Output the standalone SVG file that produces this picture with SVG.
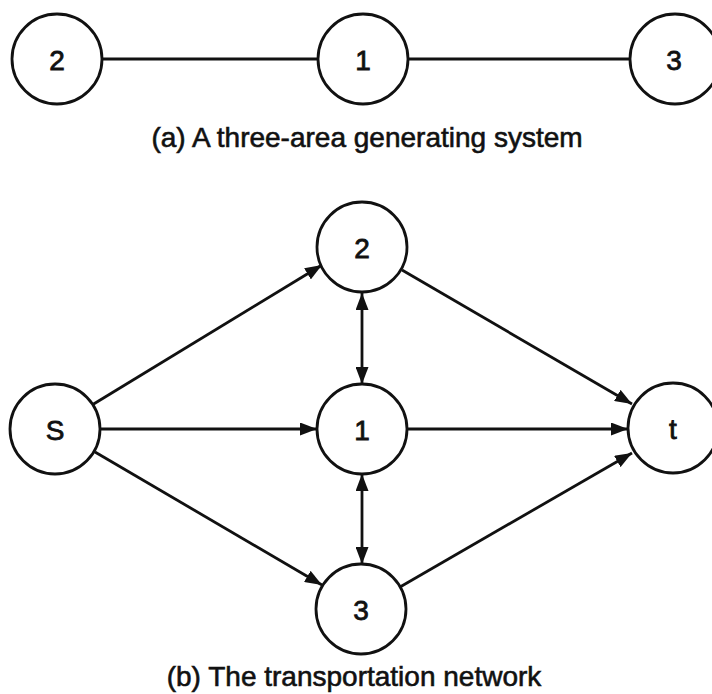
<svg xmlns="http://www.w3.org/2000/svg" width="712" height="694" viewBox="0 0 712 694">
<style>
.node circle{fill:#fff;stroke:#111;stroke-width:2.8}
.node text{font-family:"Liberation Sans",Arial,sans-serif;font-size:28px;fill:#111;text-anchor:middle;stroke:#111;stroke-width:0.8}
.cap{font-family:"Liberation Sans",Arial,sans-serif;font-size:28px;fill:#111;text-anchor:middle;stroke:#111;stroke-width:0.6}
#edges line{stroke:#111;stroke-width:2.8;fill:none}
</style>
<defs>
<marker id="ah" viewBox="0 0 17 13" refX="17" refY="6.5" markerWidth="17" markerHeight="13" markerUnits="userSpaceOnUse" orient="auto-start-reverse">
<path d="M0,0 L17,6.5 L0,13 z" fill="#111"/>
</marker>
</defs>
<rect width="712" height="694" fill="#fff"/>
<g id="edges">
<line x1="102" y1="59" x2="318" y2="59"/>
<line x1="408" y1="59" x2="630" y2="59"/>
<line x1="92" y1="405" x2="322" y2="265" marker-end="url(#ah)"/>
<line x1="100" y1="429" x2="317" y2="429" marker-end="url(#ah)"/>
<line x1="95" y1="452" x2="322" y2="585" marker-end="url(#ah)"/>
<line x1="402" y1="270" x2="632" y2="404" marker-end="url(#ah)"/>
<line x1="407" y1="429" x2="628" y2="429" marker-end="url(#ah)"/>
<line x1="400" y1="587" x2="632" y2="453" marker-end="url(#ah)"/>
<line x1="362" y1="293" x2="362" y2="384" marker-start="url(#ah)" marker-end="url(#ah)"/>
<line x1="362" y1="474" x2="362" y2="564" marker-start="url(#ah)" marker-end="url(#ah)"/>
</g>
<g id="a2" class="node"><circle cx="57" cy="59" r="45"/><text x="57" y="70">2</text></g>
<g id="a1" class="node"><circle cx="363" cy="59" r="45"/><text x="363" y="70">1</text></g>
<g id="a3" class="node"><circle cx="675" cy="59" r="45"/><text x="674" y="70">3</text></g>
<text class="cap" x="367" y="147">(a) A three-area generating system</text>
<g id="b2" class="node"><circle cx="362" cy="247" r="45"/><text x="362" y="258">2</text></g>
<g id="bS" class="node"><circle cx="55" cy="429" r="45"/><text x="55" y="440">S</text></g>
<g id="b1" class="node"><circle cx="362" cy="429" r="45"/><text x="362" y="440">1</text></g>
<g id="bt" class="node"><circle cx="673" cy="428" r="45"/><text x="673" y="439">t</text></g>
<g id="b3" class="node"><circle cx="361" cy="609" r="45"/><text x="361" y="620">3</text></g>
<text class="cap" x="354" y="686">(b) The transportation network</text>
</svg>
